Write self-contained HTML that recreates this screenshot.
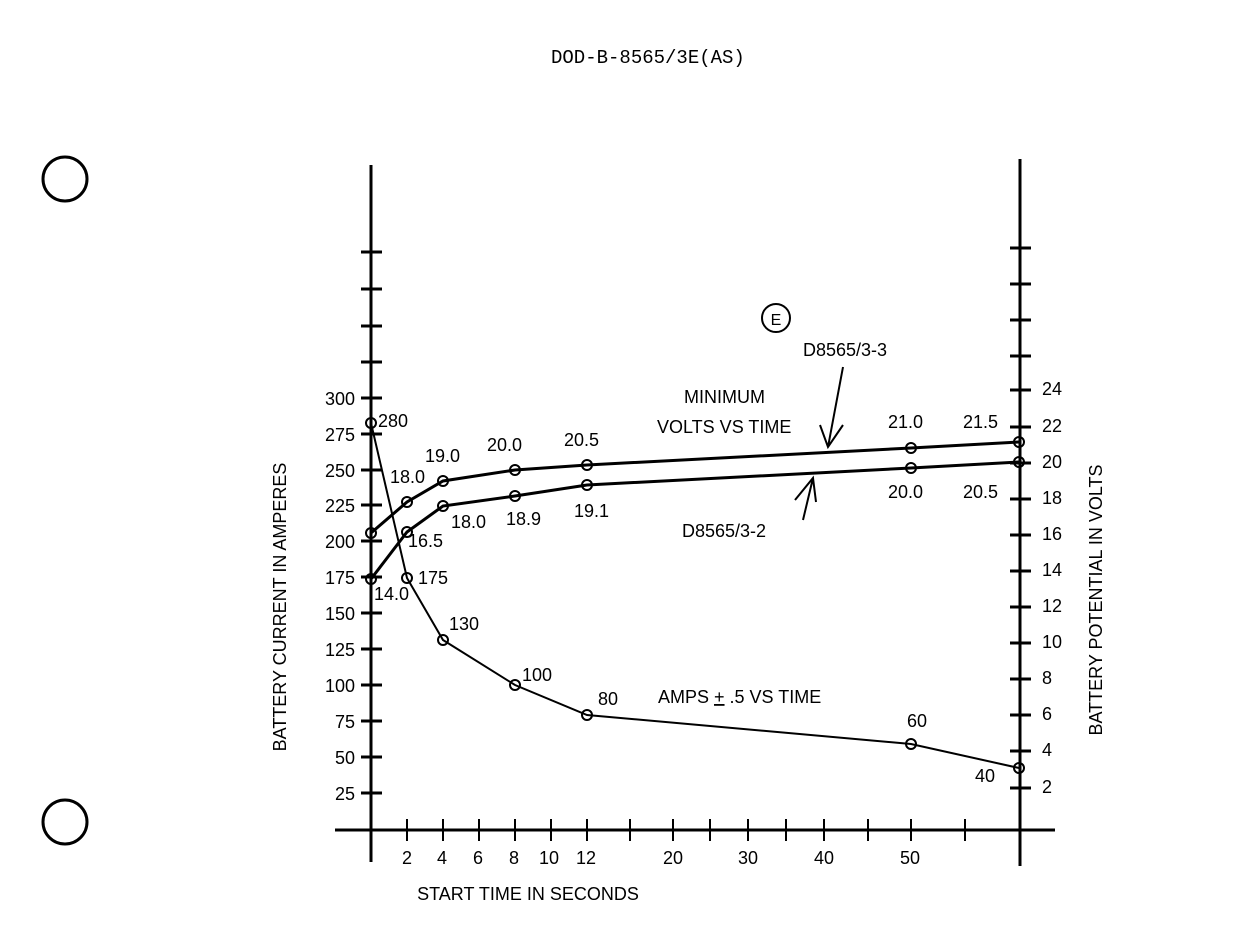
<!DOCTYPE html>
<html><head><style>
html,body{margin:0;padding:0;background:#fff;}
svg{display:block;}
text{font-family:"Liberation Sans",sans-serif;font-size:18px;fill:#000;}
</style></head><body>
<svg width="1236" height="946" viewBox="0 0 1236 946">
<rect width="1236" height="946" fill="#fff"/>
<text x="551" y="63" style="font-family:'Liberation Mono',monospace;font-size:19px">DOD-B-8565/3E(AS)</text>
<circle cx="65" cy="179" r="22" fill="none" stroke="#000" stroke-width="3"/>
<circle cx="65" cy="822" r="22" fill="none" stroke="#000" stroke-width="3"/>
<g stroke="#000" fill="none">
<line x1="371" y1="165" x2="371" y2="862" stroke-width="3"/>
<line x1="1020" y1="159" x2="1020" y2="866" stroke-width="3"/>
<line x1="335" y1="830" x2="1055" y2="830" stroke-width="3"/>
<g stroke-width="3">
<line x1="361" y1="252" x2="382" y2="252"/><line x1="361" y1="289" x2="382" y2="289"/>
<line x1="361" y1="326" x2="382" y2="326"/><line x1="361" y1="362" x2="382" y2="362"/>
<line x1="361" y1="398" x2="382" y2="398"/><line x1="361" y1="434" x2="382" y2="434"/>
<line x1="361" y1="470" x2="382" y2="470"/><line x1="361" y1="505" x2="382" y2="505"/>
<line x1="361" y1="541" x2="382" y2="541"/><line x1="361" y1="577" x2="382" y2="577"/>
<line x1="361" y1="613" x2="382" y2="613"/><line x1="361" y1="649" x2="382" y2="649"/>
<line x1="361" y1="685" x2="382" y2="685"/><line x1="361" y1="721" x2="382" y2="721"/>
<line x1="361" y1="757" x2="382" y2="757"/><line x1="361" y1="793" x2="382" y2="793"/>
<line x1="1010" y1="248" x2="1031" y2="248"/><line x1="1010" y1="284" x2="1031" y2="284"/>
<line x1="1010" y1="320" x2="1031" y2="320"/><line x1="1010" y1="356" x2="1031" y2="356"/>
<line x1="1010" y1="390" x2="1031" y2="390"/><line x1="1010" y1="427" x2="1031" y2="427"/>
<line x1="1010" y1="463" x2="1031" y2="463"/><line x1="1010" y1="499" x2="1031" y2="499"/>
<line x1="1010" y1="535" x2="1031" y2="535"/><line x1="1010" y1="571" x2="1031" y2="571"/>
<line x1="1010" y1="607" x2="1031" y2="607"/><line x1="1010" y1="643" x2="1031" y2="643"/>
<line x1="1010" y1="679" x2="1031" y2="679"/><line x1="1010" y1="715" x2="1031" y2="715"/>
<line x1="1010" y1="751" x2="1031" y2="751"/><line x1="1010" y1="788" x2="1031" y2="788"/>
</g>
<g stroke-width="2">
<line x1="407" y1="819" x2="407" y2="841"/><line x1="443" y1="819" x2="443" y2="841"/>
<line x1="479" y1="819" x2="479" y2="841"/><line x1="515" y1="819" x2="515" y2="841"/>
<line x1="551" y1="819" x2="551" y2="841"/><line x1="587" y1="819" x2="587" y2="841"/>
<line x1="630" y1="819" x2="630" y2="841"/><line x1="673" y1="819" x2="673" y2="841"/>
<line x1="710" y1="819" x2="710" y2="841"/><line x1="748" y1="819" x2="748" y2="841"/>
<line x1="786" y1="819" x2="786" y2="841"/><line x1="824" y1="819" x2="824" y2="841"/>
<line x1="868" y1="819" x2="868" y2="841"/><line x1="911" y1="819" x2="911" y2="841"/>
<line x1="965" y1="819" x2="965" y2="841"/>
</g>
<polyline points="371,423 407,578 443,640 515,685 587,715 911,744 1019,768" stroke-width="2"/>
<polyline points="371,533 407,502 443,481 515,470 587,465 911,448 1019,442" stroke-width="3"/>
<polyline points="371,579 407,532 443,506 515,496 587,485 911,468 1019,462" stroke-width="3"/>
<g stroke-width="2">
<circle cx="371" cy="423" r="5"/><circle cx="407" cy="578" r="5"/><circle cx="443" cy="640" r="5"/>
<circle cx="515" cy="685" r="5"/><circle cx="587" cy="715" r="5"/><circle cx="911" cy="744" r="5"/><circle cx="1019" cy="768" r="5"/>
<circle cx="371" cy="533" r="5"/><circle cx="407" cy="502" r="5"/><circle cx="443" cy="481" r="5"/>
<circle cx="515" cy="470" r="5"/><circle cx="587" cy="465" r="5"/><circle cx="911" cy="448" r="5"/><circle cx="1019" cy="442" r="5"/>
<circle cx="371" cy="579" r="5"/><circle cx="407" cy="532" r="5"/><circle cx="443" cy="506" r="5"/>
<circle cx="515" cy="496" r="5"/><circle cx="587" cy="485" r="5"/><circle cx="911" cy="468" r="5"/><circle cx="1019" cy="462" r="5"/>
<circle cx="776" cy="318" r="14"/>
<path d="M843,367 L828,447 M820,425 L828,447 L843,425"/>
<path d="M803,520 L813,478 M795,500 L813,478 L816,502"/>
</g>
</g>
<g text-anchor="end">
<text x="355" y="405">300</text><text x="355" y="441">275</text><text x="355" y="477">250</text>
<text x="355" y="512">225</text><text x="355" y="548">200</text><text x="355" y="584">175</text>
<text x="355" y="620">150</text><text x="355" y="656">125</text><text x="355" y="692">100</text>
<text x="355" y="728">75</text><text x="355" y="764">50</text><text x="355" y="800">25</text>
</g>
<g>
<text x="1042" y="395">24</text><text x="1042" y="432">22</text><text x="1042" y="468">20</text>
<text x="1042" y="504">18</text><text x="1042" y="540">16</text><text x="1042" y="576">14</text>
<text x="1042" y="612">12</text><text x="1042" y="648">10</text><text x="1042" y="684">8</text>
<text x="1042" y="720">6</text><text x="1042" y="756">4</text><text x="1042" y="793">2</text>
</g>
<g text-anchor="middle">
<text x="407" y="864">2</text><text x="442" y="864">4</text><text x="478" y="864">6</text>
<text x="514" y="864">8</text><text x="549" y="864">10</text><text x="586" y="864">12</text>
<text x="673" y="864">20</text><text x="748" y="864">30</text><text x="824" y="864">40</text>
<text x="910" y="864">50</text>
<text x="528" y="900">START TIME IN SECONDS</text>
<text x="776" y="325" style="font-size:16px">E</text>
</g>
<text transform="translate(286,607) rotate(-90)" text-anchor="middle">BATTERY CURRENT IN AMPERES</text>
<text transform="translate(1102,600) rotate(-90)" text-anchor="middle">BATTERY POTENTIAL IN VOLTS</text>
<text x="378" y="427">280</text><text x="418" y="584">175</text><text x="449" y="630">130</text>
<text x="522" y="681">100</text><text x="598" y="705">80</text><text x="907" y="727">60</text><text x="975" y="782">40</text>
<text x="390" y="483">18.0</text><text x="425" y="462">19.0</text><text x="487" y="451">20.0</text><text x="564" y="446">20.5</text>
<text x="888" y="428">21.0</text><text x="963" y="428">21.5</text>
<text x="374" y="600">14.0</text><text x="408" y="547">16.5</text><text x="451" y="528">18.0</text><text x="506" y="525">18.9</text>
<text x="574" y="517">19.1</text><text x="888" y="498">20.0</text><text x="963" y="498">20.5</text>
<text x="684" y="403">MINIMUM</text><text x="657" y="433">VOLTS VS TIME</text>
<text x="803" y="356">D8565/3-3</text><text x="682" y="537">D8565/3-2</text>
<text x="658" y="703">AMPS <tspan text-decoration="underline">+</tspan> .5 VS TIME</text>
</svg>
</body></html>
